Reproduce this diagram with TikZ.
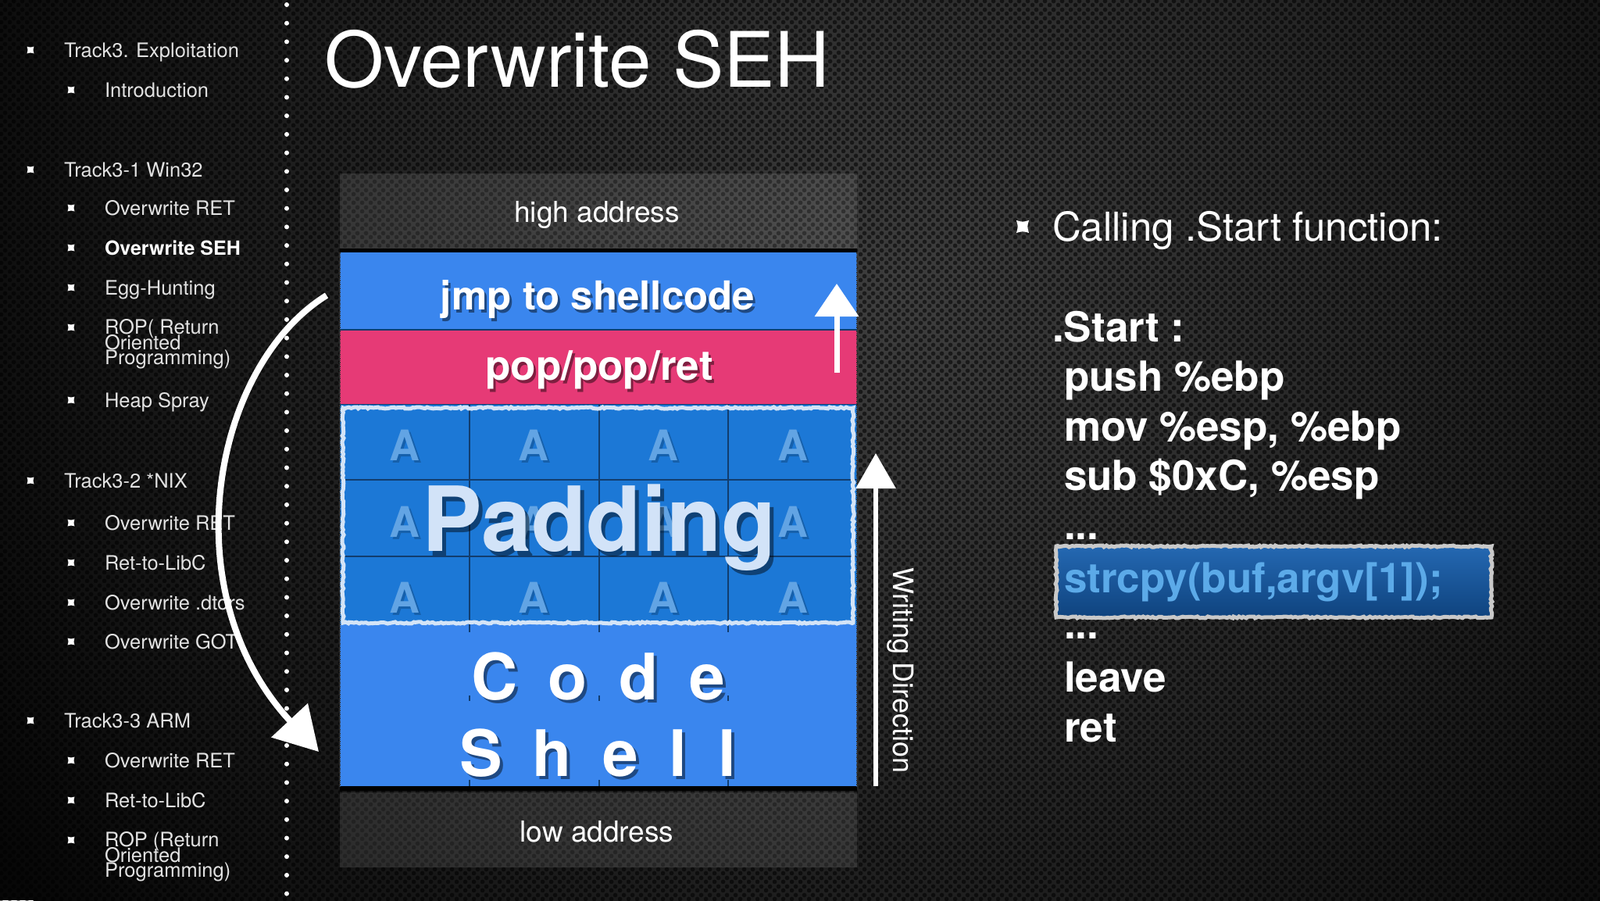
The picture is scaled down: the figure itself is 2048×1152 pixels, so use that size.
\documentclass[tikz,border=0pt]{standalone}
\usepackage{fontspec}
\setmainfont{TeX Gyre Heros}
\usetikzlibrary{arrows.meta,patterns.meta,decorations.pathmorphing}
\definecolor{bgin}{HTML}{3E3E3E}
\definecolor{bgout}{HTML}{070707}
\definecolor{blueA}{HTML}{3A86EE}
\definecolor{blueP}{HTML}{1C78D6}
\definecolor{pinkB}{HTML}{E63A76}
\definecolor{aletter}{HTML}{62A4E4}
\definecolor{padtxt}{HTML}{D2E3F8}
\definecolor{chalkb}{HTML}{D4E4F7}
\definecolor{gridl}{HTML}{123D6E}
\definecolor{menug}{HTML}{E2E2E2}
\definecolor{boxtop}{HTML}{2468B2}
\definecolor{boxbot}{HTML}{0F437E}
\definecolor{strtxt}{HTML}{5CAAE8}
\definecolor{boxedge}{HTML}{C9C9C9}
\newcommand\fsz[1]{\fontsize{#1pt}{#1pt}\selectfont}
\tikzdeclarepattern{
  name=holes,
  type=uncolored,
  bounding box={(0pt,0pt) and (11pt,11pt)},
  tile size={(11pt,11pt)},
  code={
    \fill (2.75pt,2.75pt) circle (3.1pt);
    \fill (8.25pt,8.25pt) circle (3.1pt);
  }
}
\tikzset{
  pics/bul/.style={code={
    \fill[white] (-#1,-#1) .. controls (0,-0.72*#1) .. (#1,-#1)
      .. controls (0.72*#1,0) .. (#1,#1)
      .. controls (0,0.72*#1) .. (-#1,#1)
      .. controls (-0.72*#1,0) .. cycle;}},
  menu/.style={anchor=base west, text=menug, font=\fsz{25.5}},
  menub/.style={anchor=base west, text=white, font=\bfseries\fsz{25}},
  codeline/.style={anchor=base west, text=white, font=\bfseries\fsz{53}},
  addr/.style={anchor=base, text=white, font=\fsz{37}},
  blocktxt/.style={anchor=base, text=white, font=\bfseries\fsz{52}},
  shadowtxt/.style={text=black, text opacity=0.45},
  bigletter/.style={anchor=base, text=white, font=\bfseries\fsz{82}},
  aletterstyle/.style={anchor=base, text=aletter, font=\bfseries\fsz{54}},
  chalk/.style={draw=white, fill=white},
  chalkline/.style={decorate, decoration={random steps, segment length=3pt, amplitude=1.1pt}},
}
\begin{document}
\begin{tikzpicture}[x=1pt,y=-1pt, every node/.style={inner sep=0pt, outer sep=0pt}]
\useasboundingbox (0,0) rectangle (2048,1152);
\clip (0,0) rectangle (2048,1152);
% background
\fill[bgout] (0,0) rectangle (2048,1152);
\shade[inner color=bgin, outer color=bgout] (1150,380) circle (1350);
\fill[pattern=holes, pattern color=black, fill opacity=0.55] (0,0) rectangle (2048,1152);

% title
\node[anchor=base west, text=white, font=\fsz{98}] (title) at (415,111) {Overwrite SEH};

% dotted separator
\coordinate (dtop) at (367,6);
\coordinate (dbot) at (367,1160);
\draw[white, line width=6pt, line cap=round, dash pattern=on 0pt off 23.7pt] (dtop) -- (dbot);

% left menu
\pic at (39,64) {bul=4.5};   \node[menu] (m1) at (82,73) {Track3. Exploitation};
\pic at (91,115) {bul=4.5};  \node[menu] (m2) at (134,124) {Introduction};
\pic at (39,217) {bul=4.5};  \node[menu] (m3) at (82,226) {Track3-1 Win32};
\pic at (91,266) {bul=4.5};  \node[menu] (m4) at (134,275) {Overwrite RET};
\pic at (91,317) {bul=4.5};  \node[menub] (m5) at (134,326) {Overwrite SEH};
\pic at (91,368) {bul=4.5};  \node[menu] (m6) at (134,377) {Egg-Hunting};
\pic at (91,419) {bul=4.5};  \node[menu] (m7a) at (134,427) {ROP( Return};
                             \node[menu] (m7b) at (134,447) {Oriented};
                             \node[menu] (m7c) at (134,466) {Programming)};
\pic at (91,512) {bul=4.5};  \node[menu] (m8) at (134,521) {Heap Spray};
\pic at (39,615) {bul=4.5};  \node[menu] (m9) at (82,624) {Track3-2 *NIX};
\pic at (91,669) {bul=4.5};  \node[menu] (m10) at (134,678) {Overwrite RET};
\pic at (91,720) {bul=4.5};  \node[menu] (m11) at (134,729) {Ret-to-LibC};
\pic at (91,771) {bul=4.5};  \node[menu] (m12) at (134,780) {Overwrite .dtors};
\pic at (91,821) {bul=4.5};  \node[menu] (m13) at (134,830) {Overwrite GOT};
\pic at (39,922) {bul=4.5};  \node[menu] (m14) at (82,931) {Track3-3 ARM};
\pic at (91,973) {bul=4.5};  \node[menu] (m15) at (134,982) {Overwrite RET};
\pic at (91,1024) {bul=4.5}; \node[menu] (m16) at (134,1033) {Ret-to-LibC};
\pic at (91,1075) {bul=4.5}; \node[menu] (m17a) at (134,1083) {ROP (Return};
                             \node[menu] (m17b) at (134,1103) {Oriented};
                             \node[menu] (m17c) at (134,1122) {Programming)};

% stack blocks
\fill[white, fill opacity=0.10] (435,222) rectangle (1097,320);
\node[addr] (high) at (764,284) {high address};
\fill[black] (435,318) rectangle (1097,323);
\fill[blueA] (435,323) rectangle (1097,422);
\fill[pinkB] (435,422) rectangle (1097,518);
\draw[gridl, line width=1.5pt] (435,422) -- (1097,422);
\draw[gridl, line width=1.5pt] (435,518) -- (1097,518);
\fill[blueP] (435,518) rectangle (1097,799);
\fill[blueA] (435,799) rectangle (1097,1006);
\fill[black] (435,1006) rectangle (1097,1012);
\fill[white, fill opacity=0.10] (435,1014) rectangle (1097,1110);
\node[addr] (low) at (764,1077) {low address};
\draw[black!80, line width=1.5pt, densely dotted] (1097,323) -- (1097,1006);
\draw[black!80, line width=1.5pt, densely dotted] (435,323) -- (435,1006);

% grid inside padding
\foreach \gx in {601,767,932} {
  \draw[gridl, line width=2pt] (\gx,518) -- (\gx,809);
  \draw[gridl, line width=2pt] (\gx,890) -- (\gx,897);
  \draw[gridl, line width=2pt] (\gx,998) -- (\gx,1006);
}
\foreach \gy in {614,712} \draw[gridl, line width=1.5pt] (435,\gy) -- (1097,\gy);

% A letters
\foreach \ax [count=\ci] in {518,683,849,1015} {
  \foreach \ay [count=\ri] in {589,687,784} {
    \node[aletterstyle, shadowtxt, text opacity=0.2] (ash\ci\ri) at (\ax+3,\ay+3) {A};
    \node[aletterstyle] (a\ci\ri) at (\ax,\ay) {A};
  }
}

% block texts
\node[blocktxt, font=\bfseries\fsz{51}, shadowtxt] (jmpsh) at (768,400) {jmp to shellcode};
\node[blocktxt, font=\bfseries\fsz{51}] (jmp) at (765,396) {jmp to shellcode};
\node[blocktxt, font=\bfseries\fsz{53}, shadowtxt] (popsh) at (770,490) {pop/pop/ret};
\node[blocktxt, font=\bfseries\fsz{53}] (pop) at (767,486) {pop/pop/ret};

\node[anchor=base, font=\bfseries\fsz{115}, shadowtxt] (padsh) at (772,711) {Padding};
\node[anchor=base, font=\bfseries\fsz{115}, text=padtxt] (padding) at (767,705) {Padding};

% chalk border round the padding
\draw[chalkb, line width=5pt, chalkline] (439,522) rectangle (1092,797);

% Code / Shell letters
\foreach \lx/\lt [count=\k] in {633/C,727/o,818/d,905/e} {
  \node[bigletter, shadowtxt] (csh\k) at (\lx+4,899) {\lt};
  \node[bigletter] (c\k) at (\lx,895) {\lt};
}
\foreach \lx/\lt [count=\k] in {616/S,707/h,794/e,868/l,931/l} {
  \node[bigletter, shadowtxt] (ssh\k) at (\lx+4,997) {\lt};
  \node[bigletter] (s\k) at (\lx,993) {\lt};
}

% chalk arrows
\coordinate (upS) at (1071,477);
\coordinate (upE) at (1071,363);
\draw[chalk, line width=7pt, -{Triangle[length=42pt,width=55pt]}] (upS) -- (upE);

\coordinate (wdS) at (1121,1006);
\coordinate (wdE) at (1121,580);
\draw[chalk, line width=6pt, -{Triangle[length=45pt,width=50pt]}] (wdS) -- (wdE);
\node[text=white, font=\fsz{36}, rotate=-90] (wdir) at (1153,858) {Writing Direction};

\coordinate (bigS) at (418,378);
\coordinate (bigE) at (408,962);
\draw[chalk, fill=none, line width=8pt, -{Triangle[length=55pt,width=62pt,fill=white]}] (bigS) .. controls (270,470) and (220,760) .. (bigE);

% right side
\pic at (1309,290) {bul=8};
\node[anchor=base west, text=white, font=\fsz{51}] (calling) at (1347,308) {Calling .Start function:};
\node[codeline] (c0) at (1347,437) {.Start :};
\node[codeline] (c1) at (1362,500) {push \%ebp};
\node[codeline] (c2) at (1362,564) {mov \%esp, \%ebp};
\node[codeline] (c3) at (1362,627) {sub \$0xC, \%esp};
\node[codeline] (c4) at (1362,690) {...};
\shade[top color=boxtop, bottom color=boxbot] (1352,699) rectangle (1909,790);
\draw[boxedge, line width=5pt, chalkline] (1352,699) rectangle (1909,790);
\node[codeline, text=strtxt] (c5) at (1362,758) {strcpy(buf,argv[1]);};
\node[codeline] (c6) at (1362,817) {...};
\node[codeline] (c7) at (1362,885) {leave};
\node[codeline] (c8) at (1362,949) {ret};
\end{tikzpicture}
\end{document}
